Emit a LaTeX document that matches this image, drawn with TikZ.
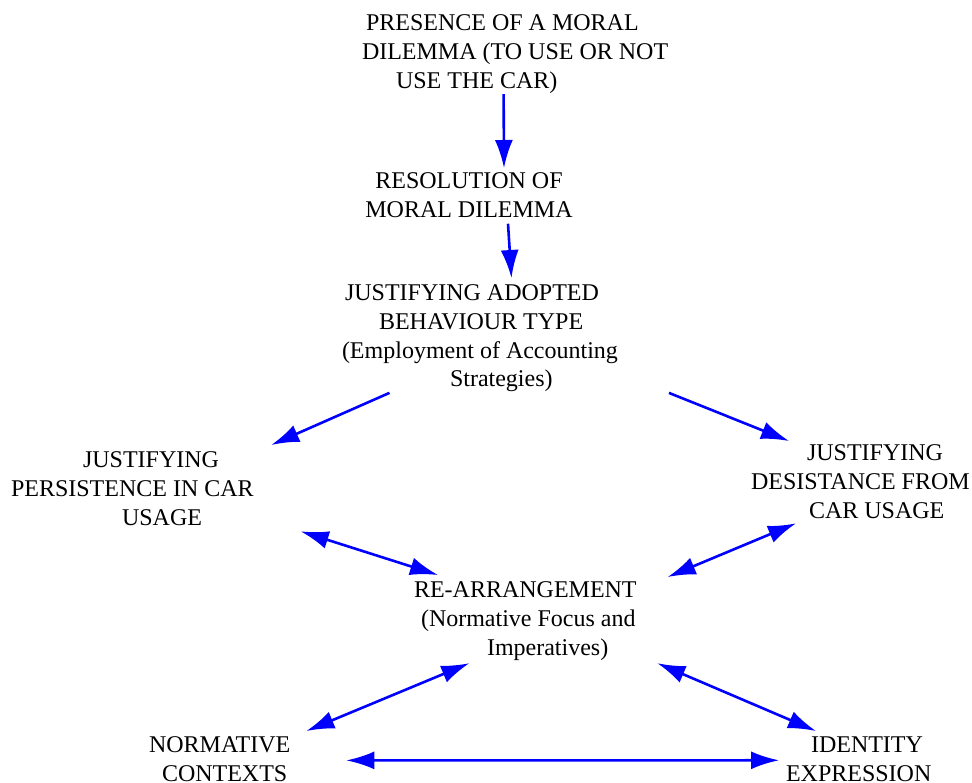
\documentclass[tikz,border=0pt]{standalone}
\usepackage{fontspec}
\setmainfont{Liberation Serif}
\usetikzlibrary{arrows.meta,calc}
\definecolor{arrblue}{RGB}{0,0,255}
\tikzset{
  txt/.style={inner sep=0pt, outer sep=0pt, font=\fontsize{12}{14.3}\selectfont},
  arr/.style={draw=arrblue, line width=1.3pt, -{Latex[length=14pt,width=9pt]}},
  darr/.style={draw=arrblue, line width=1.3pt, {Latex[length=14pt,width=9pt]}-{Latex[length=14pt,width=9pt]}}
}
\begin{document}
\begin{tikzpicture}[x=0.5pt,y=-0.5pt]
\useasboundingbox (0,0) rectangle (972,782);
% nodes
\node[txt, align=left, anchor=north west] (n1) at (362,15)
  {\hspace*{2pt}PRESENCE OF A MORAL\\DILEMMA (TO USE OR NOT\\\hspace*{17pt}USE THE CAR)};
\node[txt, align=center, anchor=north] (n2) at (469,173)
  {RESOLUTION OF\\MORAL DILEMMA};
\node[txt, align=left, anchor=north west] (n3) at (342,285)
  {\hspace*{1.5pt}JUSTIFYING ADOPTED\\\hspace*{18.5pt}BEHAVIOUR TYPE\\(Employment of Accounting\\\hspace*{54pt}Strategies)};
\node[txt, align=left, anchor=north west] (n4) at (11,452)
  {\hspace*{36pt}JUSTIFYING\\PERSISTENCE IN CAR\\\hspace*{55.5pt}USAGE};
\node[txt, align=left, anchor=north west] (n5) at (751,445)
  {\hspace*{28pt}JUSTIFYING\\DESISTANCE FROM\\\hspace*{29pt}CAR USAGE};
\node[txt, align=left, anchor=north west] (n6) at (414,582)
  {RE-ARRANGEMENT\\\hspace*{3.5pt}(Normative Focus and\\\hspace*{36.5pt}Imperatives)};
\node[txt, align=left, anchor=north west] (n7) at (149,737)
  {NORMATIVE\\\hspace*{6.5pt}CONTEXTS};
\node[txt, align=left, anchor=north west] (n8) at (786,737)
  {\hspace*{12.5pt}IDENTITY\\EXPRESSION};
% connectors
\draw[arr] ($(n1.south)+(-11.5,1)$) -- ($(n2.north)+(35,-5)$);
\draw[arr] ($(n2.south)+(39,6)$) -- ($(n3.north)+(31.5,-7)$);
\draw[arr] ($(n3.south)+(-90.5,1)$) -- ($(n4.north east)+(17.5,-7)$);
\draw[arr] ($(n3.south east)+(51,1)$) -- ($(n5.north west)+(38,-4)$);
\draw[darr] ($(n4.south east)+(47,6)$) -- ($(n6.north west)+(24,-7)$);
\draw[darr] ($(n6.north east)+(31,-5)$) -- ($(n5.south west)+(45,5)$);
\draw[darr] ($(n7.north east)+(16,-6)$) -- ($(n6.south)+(-56,3)$);
\draw[darr] ($(n6.south)+(132,3)$) -- ($(n8.north west)+(30,-6)$);
\draw[darr] ($(n7.east)+(56,1)$) -- ($(n8.west)+(-7,1)$);
\end{tikzpicture}
\end{document}
